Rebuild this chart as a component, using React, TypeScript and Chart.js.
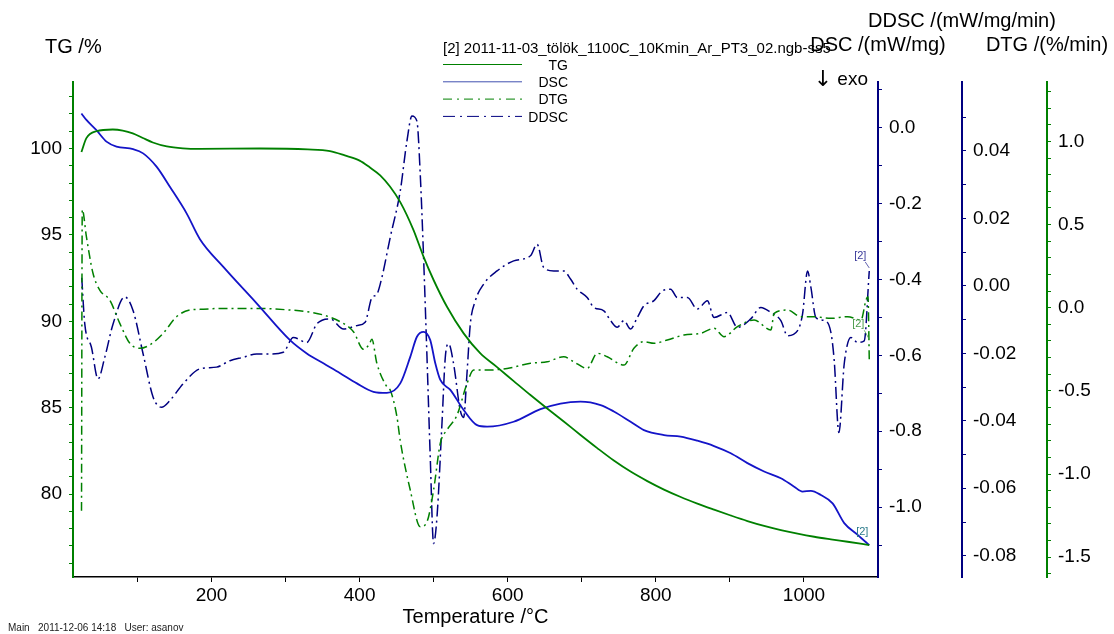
import React, { useEffect, useRef } from "react";
import { Chart, registerables } from "chart.js";

Chart.register(...registerables);

const FONT = '"Liberation Sans", Arial, Helvetica, sans-serif';
Chart.defaults.font.family = FONT;

const GREEN = "#008000";
const BLUE = "#1414c8";
const NAVY = "#000080";

// ---- data ----
const tgTemp = [24.4, 31.1, 44.6, 66.7, 80.2, 93.7, 107.3, 120.8, 139.7, 161.4,
  184.4, 265.5, 330, 360, 380, 400, 414, 427.8, 441, 454.9,
  472.8, 486.3, 499.9, 518, 540.5, 563.1, 585.6, 608.1, 630.7, 653.3,
  675.7, 698.3, 720.9, 743.3, 765.9, 788.5, 811, 833.6, 856.1, 878.6,
  901.2, 923.7, 946.2, 968.8, 991.4, 1013.8, 1036.4, 1059, 1088.2];
const tgValues = [99.8, 100.6, 101.0, 101.1, 101.04, 100.88, 100.61, 100.35, 100.12, 100.01,
  99.98, 100.0, 99.95, 99.85, 99.6, 99.3, 98.9, 98.45, 97.8, 96.9,
  95.28, 93.74, 92.39, 90.84, 89.3, 88.14, 87.35, 86.54, 85.73, 84.95,
  84.2, 83.42, 82.66, 81.94, 81.3, 80.75, 80.26, 79.83, 79.45, 79.1,
  78.76, 78.44, 78.16, 77.92, 77.71, 77.53, 77.38, 77.24, 77.05];

const dscTemp = [24.4, 31.1, 44.6, 58.2, 71.7, 94.2, 107.7, 125.8, 143.8, 166.4,
  184.4, 216, 261, 306, 328.7, 351.1, 373.7, 396.3, 418.7, 436.8,
  454.9, 468.4, 477.4, 486.4, 495.4, 502.2, 509, 522.5, 540.5, 558.6,
  572.1, 608, 644.2, 671.3, 698.3, 725.4, 743.3, 765.9, 783.9, 811,
  833.5, 856.1, 878.6, 901.2, 923.7, 946.2, 968.8, 986.8, 998.1, 1009.4,
  1022.9, 1038.7, 1054.4, 1072.5, 1088.2];
const dscValues = [0.037, 0.02, -0.007, -0.037, -0.05, -0.057, -0.068, -0.103, -0.156, -0.226,
  -0.294, -0.367, -0.463, -0.56, -0.595, -0.621, -0.647, -0.674, -0.696, -0.699,
  -0.674, -0.604, -0.551, -0.538, -0.56, -0.621, -0.665, -0.691, -0.744, -0.784,
  -0.788, -0.775, -0.742, -0.727, -0.722, -0.731, -0.748, -0.775, -0.797, -0.81,
  -0.814, -0.825, -0.839, -0.858, -0.884, -0.906, -0.924, -0.946, -0.959, -0.957,
  -0.968, -0.99, -1.042, -1.073, -1.10];

const dtgTemp = [24.5, 25.5, 31.1, 40.0, 49.1, 62.6, 76.2, 89.7, 103.2, 116.7,
  134.8, 152.8, 170.8, 184.4, 216, 261, 306.1, 328.7, 351.1, 373.7,
  391.7, 405.2, 413, 416.6, 423.3, 436.8, 441.3, 450.4, 454.9, 468.4,
  481.9, 491, 499.9, 509, 518, 531.6, 545.1, 554, 572.1, 599.2,
  630.7, 653.3, 675.7, 689.2, 707.3, 720.9, 734.4, 756.9, 770.4, 784,
  797.5, 815.5, 838, 860.6, 878.6, 892.2, 910.2, 932.7, 955.3, 959.8,
  977.9, 995.9, 1013.8, 1036.4, 1059, 1077, 1083.8, 1086.5, 1088.2];
const dtgValues = [-1.22, 0.59, 0.427, 0.207, 0.106, 0.046, -0.094, -0.214, -0.244, -0.224,
  -0.154, -0.054, -0.014, -0.01, -0.004, -0.004, -0.014, -0.024, -0.044, -0.084,
  -0.144, -0.25, -0.22, -0.19, -0.334, -0.475, -0.495, -0.655, -0.80, -1.096,
  -1.317, -1.287, -1.096, -0.815, -0.735, -0.645, -0.455, -0.375, -0.375, -0.365,
  -0.334, -0.325, -0.295, -0.325, -0.365, -0.274, -0.295, -0.345, -0.244, -0.204,
  -0.214, -0.194, -0.164, -0.154, -0.124, -0.174, -0.114, -0.074, -0.134, -0.034,
  -0.014, -0.054, -0.054, -0.064, -0.054, -0.074, 0.046, 0.066, -0.31];

const ddscTemp = [24.8, 28.9, 37.9, 46.8, 55.9, 67.1, 82.9, 94.2, 107.7, 121.2,
  132.6, 143.8, 161.8, 184.4, 206.9, 224.9, 242.9, 261.0, 279.0, 297.0,
  310.5, 328.7, 342.2, 360.2, 378.2, 396.3, 407.5, 416.6, 423.3, 430.1,
  441.3, 454.9, 463.9, 470.7, 477.4, 481.9, 486.4, 491.0, 495.4, 499.9,
  504.5, 511.2, 515.7, 520.2, 526.9, 536.0, 540.5, 545.0, 549.5, 556.3,
  567.5, 585.6, 608.1, 630.7, 639.7, 648.6, 662.2, 675.7, 684.8, 693.8,
  707.3, 716.3, 729.8, 738.9, 747.9, 756.9, 765.9, 775.0, 784.0, 797.5,
  808.8, 820.0, 829.1, 842.6, 856.1, 869.6, 878.6, 896.7, 910.2, 928.2,
  941.8, 955.3, 968.8, 977.9, 991.4, 998.1, 1004.9, 1009.4, 1016.1, 1027.4,
  1036.4, 1040.9, 1047.2, 1054.4, 1063.4, 1072.5, 1081.4, 1088.2];
const ddscValues = [0.0024, -0.0113, -0.0182, -0.0276, -0.0212, -0.0113, -0.0033, -0.0074, -0.0202, -0.033,
  -0.036, -0.034, -0.029, -0.0246, -0.0241, -0.0222, -0.0212, -0.0202, -0.0202, -0.0197,
  -0.0153, -0.0168, -0.0113, -0.0098, -0.0128, -0.0118, -0.0108, -0.0035, -0.0025, 0.0025,
  0.0143, 0.0281, 0.0429, 0.0503, 0.0488, 0.033, 0.0084, -0.0212, -0.0508, -0.0764,
  -0.0685, -0.0409, -0.0212, -0.0172, -0.0231, -0.037, -0.039, -0.026, -0.0113, -0.0044,
  0.0005, 0.0044, 0.0074, 0.0089, 0.0123, 0.0054, 0.0044, 0.0044, 0.002, -0.001,
  -0.0035, -0.0064, -0.0074, -0.0103, -0.0123, -0.0103, -0.0128, -0.0094, -0.0059, -0.0044,
  -0.0015, -0.001, -0.0035, -0.0035, -0.0069, -0.0044, -0.0094, -0.0079, -0.0123, -0.0098,
  -0.0064, -0.0079, -0.0103, -0.0148, -0.0133, -0.0084, 0.0044, -0.0005, -0.0094, -0.0103,
  -0.0138, -0.0222, -0.0435, -0.0231, -0.0153, -0.0168, -0.0163, 0.0044];

// ---- ticks ----
const xTicks = [100, 200, 300, 400, 500, 600, 700, 800, 900, 1000];
const xLabels = [200, 400, 600, 800, 1000];
const tgTicks = [76, 77, 78, 79, 80, 81, 82, 83, 84, 85, 86, 87, 88, 89, 90, 91, 92, 93, 94, 95, 96, 97, 98, 99, 100, 101, 102, 103];
const tgLabels = [80, 85, 90, 95, 100];
const dscTicks = [-1.1, -1.0, -0.9, -0.8, -0.7, -0.6, -0.5, -0.4, -0.3, -0.2, -0.1, 0.0, 0.1];
const dscLabels = [-1.0, -0.8, -0.6, -0.4, -0.2, 0.0];
const ddscTicks = [-0.08, -0.07, -0.06, -0.05, -0.04, -0.03, -0.02, -0.01, 0.0, 0.01, 0.02, 0.03, 0.04, 0.05];
const ddscLabels = [-0.08, -0.06, -0.04, -0.02, 0.0, 0.02, 0.04];
const dtgTicks = [-1.6, -1.5, -1.4, -1.3, -1.2, -1.1, -1.0, -0.9, -0.8, -0.7, -0.6, -0.5, -0.4, -0.3, -0.2, -0.1, 0.0, 0.1, 0.2, 0.3, 0.4, 0.5, 0.6, 0.7, 0.8, 0.9, 1.0, 1.1, 1.2, 1.3];
const dtgLabels = [-1.5, -1.0, -0.5, 0.0, 0.5, 1.0];

const fileTitle = "[2] 2011-11-03_tölök_1100C_10Kmin_Ar_PT3_02.ngb-ss5";
const footer = "Main   2011-12-06 14:18   User: asanov";

const legendItems = [
  { label: "TG", color: GREEN, dash: [] as number[] },
  { label: "DSC", color: "#4050b0", dash: [] as number[] },
  { label: "DTG", color: GREEN, dash: [9, 5, 2, 5] },
  { label: "DDSC", color: NAVY, dash: [12, 5, 2, 5] },
];

const pts = (xs: number[], ys: number[]) => xs.map((x, i) => ({ x, y: ys[i] }));
const has = (arr: number[], v: number) => arr.some((a) => Math.abs(a - v) < 1e-6);

const overlay = {
  id: "overlay",
  afterDraw(chart: any) {
    const ctx = chart.ctx as CanvasRenderingContext2D;
    const sx = chart.scales.x;
    const sDSC = chart.scales.yDSC;
    const sDDSC = chart.scales.yDDSC;
    const sDTG = chart.scales.yDTG;
    const sTG = chart.scales.yTG;
    ctx.save();
    ctx.textBaseline = "middle";
    ctx.fillStyle = "#000";

    // file title + legend
    ctx.font = `15px ${FONT}`;
    ctx.textAlign = "left";
    ctx.fillText(fileTitle, 443, 49);
    ctx.font = `14px ${FONT}`;
    legendItems.forEach((it, i) => {
      const y = 66 + i * 17.3;
      ctx.save();
      ctx.strokeStyle = it.color;
      ctx.lineWidth = 1;
      ctx.setLineDash(it.dash);
      ctx.beginPath();
      ctx.moveTo(443, y - 1.5);
      ctx.lineTo(522, y - 1.5);
      ctx.stroke();
      ctx.restore();
      ctx.textAlign = "right";
      ctx.fillStyle = "#000";
      ctx.fillText(it.label, 568, y);
    });

    // axis titles
    ctx.font = `20px ${FONT}`;
    ctx.textAlign = "left";
    ctx.fillText("TG /%", 45, 47);
    ctx.textAlign = "center";
    ctx.fillText("DDSC /(mW/mg/min)", sDDSC.left, 21);
    ctx.fillText("DSC /(mW/mg)", sDSC.left, 45);
    ctx.fillText("DTG /(%/min)", sDTG.left, 45);
    ctx.textAlign = "right";
    ctx.font = `19px ${FONT}`;
    ctx.fillText("exo", sDSC.left - 10, 80);
    const exoW = ctx.measureText("exo ").width;
    ctx.font = `22px "DejaVu Sans", ${FONT}`;
    ctx.fillText("\u2193", sDSC.left - 10 - exoW, 80);

    // footer
    ctx.font = `10px ${FONT}`;
    ctx.textAlign = "left";
    ctx.fillStyle = "#222";
    ctx.fillText(footer, 8, 628);

    // [2] end markers
    ctx.font = `11px ${FONT}`;
    ctx.textAlign = "center";
    const ex = sx.getPixelForValue(ddscTemp[ddscTemp.length - 1]);
    const ddY = sDDSC.getPixelForValue(ddscValues[ddscValues.length - 1]);
    ctx.fillStyle = "#3a3a9a";
    ctx.fillText("[2]", ex - 9, ddY - 15);
    ctx.strokeStyle = "#3a3a9a";
    ctx.lineWidth = 0.8;
    ctx.beginPath();
    ctx.moveTo(ex - 4, ddY - 9);
    ctx.lineTo(ex, ddY - 3);
    ctx.stroke();

    const dtX = sx.getPixelForValue(dtgTemp[dtgTemp.length - 1]);
    const dtY = sDTG.getPixelForValue(dtgValues[dtgValues.length - 1]);
    ctx.fillStyle = "#4a9a4a";
    ctx.fillText("[2]", dtX - 11, dtY - 35);
    ctx.strokeStyle = "#4a9a4a";
    ctx.beginPath();
    ctx.moveTo(dtX - 5, dtY - 29);
    ctx.lineTo(dtX, dtY - 20);
    ctx.stroke();

    const tgX = sx.getPixelForValue(tgTemp[tgTemp.length - 1]);
    const tgY = sTG.getPixelForValue(tgValues[tgValues.length - 1]);
    ctx.fillStyle = "#2a7a8a";
    ctx.fillText("[2]", tgX - 7, tgY - 13);
    ctx.restore();
  },
};

function axisY(opts: {
  position: "left" | "right";
  min: number;
  max: number;
  ticks: number[];
  labels: number[];
  digits: number;
  color: string;
  width: number;
}) {
  return {
    type: "linear" as const,
    position: opts.position,
    min: opts.min,
    max: opts.max,
    afterBuildTicks: (s: any) => {
      s.ticks = opts.ticks.map((v) => ({ value: v }));
    },
    afterFit: (s: any) => {
      s.width = opts.width;
    },
    grid: {
      display: true,
      drawOnChartArea: false,
      drawTicks: true,
      tickLength: 4,
      tickColor: opts.color,
      tickWidth: 1,
    },
    border: { display: true, color: opts.color, width: 2 },
    ticks: {
      autoSkip: false,
      padding: 7,
      color: "#000",
      font: { size: 19, family: FONT },
      callback: (v: any) => (has(opts.labels, Number(v)) ? Number(v).toFixed(opts.digits) : ""),
    },
  };
}

export default function App() {
  const ref = useRef<HTMLCanvasElement>(null);
  useEffect(() => {
    const canvas = ref.current;
    if (!canvas) return;
    const chart = new Chart(canvas, {
      type: "line",
      data: {
        datasets: [
          {
            label: "TG",
            data: pts(tgTemp, tgValues),
            yAxisID: "yTG",
            borderColor: GREEN,
            borderWidth: 1.8,
            pointRadius: 0,
            cubicInterpolationMode: "monotone",
            fill: false,
          },
          {
            label: "DSC",
            data: pts(dscTemp, dscValues),
            yAxisID: "yDSC",
            borderColor: BLUE,
            borderWidth: 1.8,
            pointRadius: 0,
            cubicInterpolationMode: "monotone",
            fill: false,
          },
          {
            label: "DTG",
            data: pts(dtgTemp, dtgValues),
            yAxisID: "yDTG",
            borderColor: GREEN,
            borderWidth: 1.5,
            borderDash: [9, 4, 2, 4],
            pointRadius: 0,
            cubicInterpolationMode: "monotone",
            fill: false,
          },
          {
            label: "DDSC",
            data: pts(ddscTemp, ddscValues),
            yAxisID: "yDDSC",
            borderColor: NAVY,
            borderWidth: 1.5,
            borderDash: [12, 4, 2, 4],
            pointRadius: 0,
            cubicInterpolationMode: "monotone",
            fill: false,
          },
        ],
      },
      options: {
        responsive: true,
        maintainAspectRatio: false,
        animation: false,
        layout: { padding: { top: 82, left: 0, right: 0, bottom: 0 } },
        plugins: { legend: { display: false }, tooltip: { enabled: false } },
        scales: {
          x: {
            type: "linear",
            position: "bottom",
            min: 13,
            max: 1100,
            afterBuildTicks: (s: any) => {
              s.ticks = xTicks.map((v) => ({ value: v }));
            },
            afterFit: (s: any) => {
              s.height = 57;
            },
            grid: {
              display: true,
              drawOnChartArea: false,
              drawTicks: true,
              tickLength: 5,
              tickColor: "#000",
            },
            border: { display: true, color: "#000", width: 1.5 },
            ticks: {
              autoSkip: false,
              maxRotation: 0,
              padding: 2,
              color: "#000",
              font: { size: 19, family: FONT },
              callback: (v: any) => (has(xLabels, Number(v)) ? String(v) : ""),
            },
            title: {
              display: true,
              text: "Temperature /°C",
              color: "#000",
              font: { size: 20, family: FONT },
              padding: { top: 0, bottom: 5 },
            },
          },
          yTG: axisY({ position: "left", min: 75.2, max: 103.85, ticks: tgTicks, labels: tgLabels, digits: 0, color: GREEN, width: 73 }),
          yDSC: axisY({ position: "right", min: -1.184, max: 0.12, ticks: dscTicks, labels: dscLabels, digits: 1, color: NAVY, width: 84 }),
          yDDSC: axisY({ position: "right", min: -0.0863, max: 0.0604, ticks: ddscTicks, labels: ddscLabels, digits: 2, color: NAVY, width: 85 }),
          yDTG: axisY({ position: "right", min: -1.619, max: 1.357, ticks: dtgTicks, labels: dtgLabels, digits: 1, color: GREEN, width: 67 }),
        },
      } as any,
      plugins: [overlay],
    });
    return () => chart.destroy();
  }, []);
  return (
    <div style={{ position: "fixed", left: 0, top: 0, width: 1114, height: 634, background: "#fff" }}>
      <canvas ref={ref} />
    </div>
  );
}
